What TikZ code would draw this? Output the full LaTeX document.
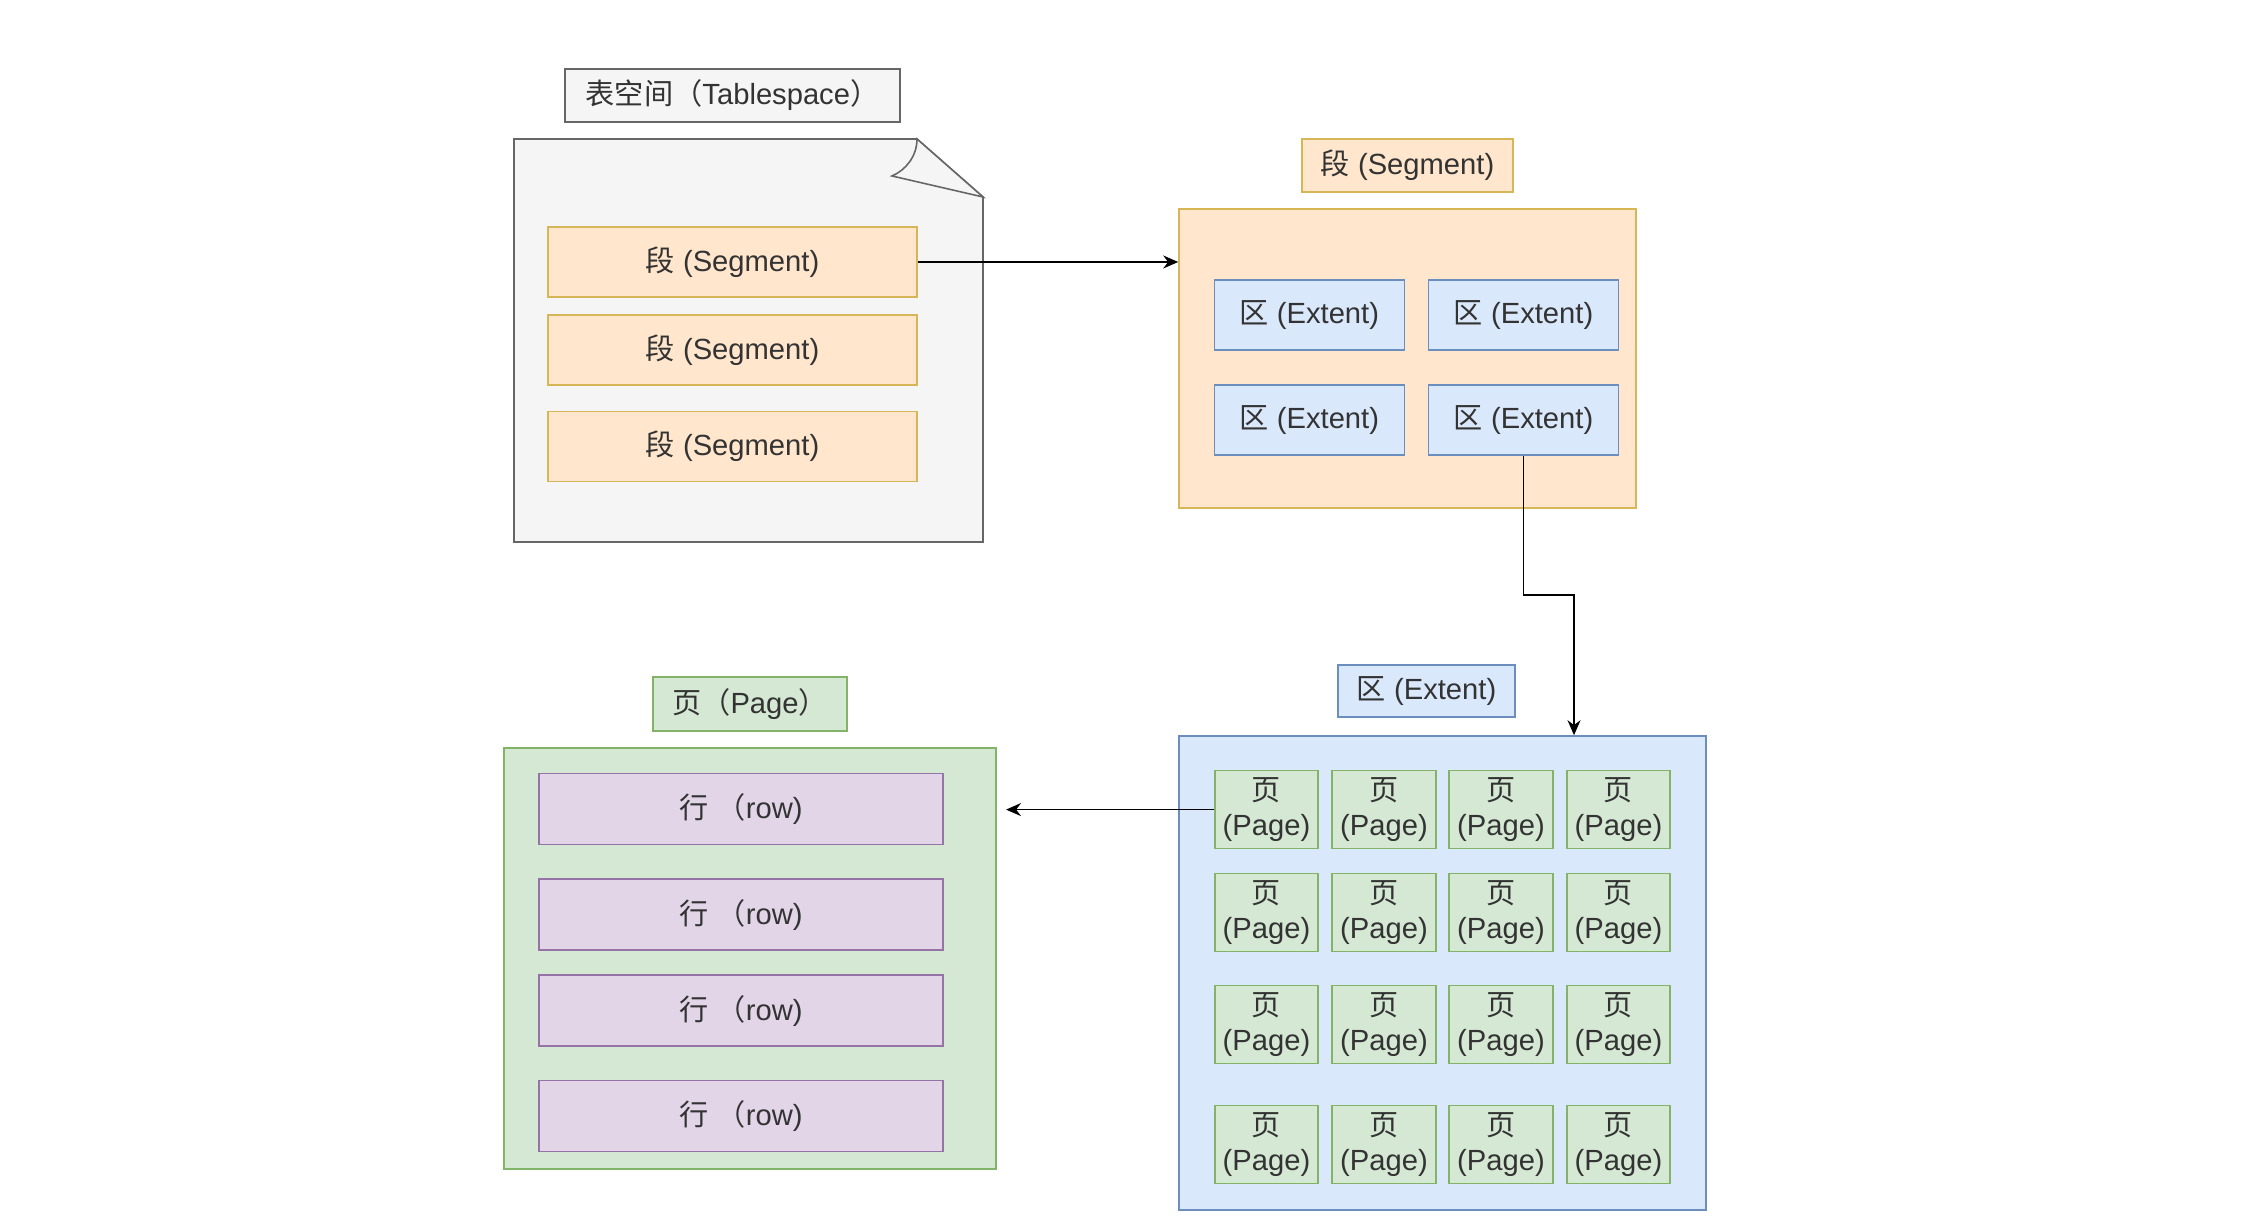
\documentclass[tikz,border=0pt]{standalone}
\usepackage{fontspec}
\setmainfont{Liberation Sans}
\newfontfamily\cjk{Noto Sans CJK SC}
\usetikzlibrary{arrows.meta}
\definecolor{txt}{HTML}{333333}
\definecolor{grayfill}{HTML}{F5F5F5}
\definecolor{graydraw}{HTML}{666666}
\definecolor{orfill}{HTML}{FFE6CC}
\definecolor{ordraw}{HTML}{D6B656}
\definecolor{blfill}{HTML}{DAE8FC}
\definecolor{bldraw}{HTML}{6C8EBF}
\definecolor{grfill}{HTML}{D5E8D4}
\definecolor{grdraw}{HTML}{82B366}
\definecolor{pufill}{HTML}{E1D5E7}
\definecolor{pudraw}{HTML}{9673A6}
\tikzset{
  base/.style={rectangle, inner sep=0pt, line width=0.45pt, text=txt,
    font=\fontsize{8.3pt}{10pt}\selectfont, align=center},
  graybox/.style={base, fill=grayfill, draw=graydraw},
  orbox/.style={base, fill=orfill, draw=ordraw},
  blbox/.style={base, fill=blfill, draw=bldraw},
  grbox/.style={base, fill=grfill, draw=grdraw},
  pubox/.style={base, fill=pufill, draw=pudraw},
  segsz/.style={minimum width=36.9mm, minimum height=7.0mm},
  extsz/.style={minimum width=19.0mm, minimum height=7.0mm},
  pagesz/.style={minimum width=10.35mm, minimum height=7.8mm},
  rowsz/.style={minimum width=40.4mm, minimum height=7.1mm},
  arr/.style={line width=0.4pt, draw=black, -{Stealth[length=1.5mm, width=1.3mm]}},
}
\newcommand{\seglabel}{{\cjk 段} (Segment)}
\newcommand{\extlabel}{{\cjk 区} (Extent)}
\newcommand{\pagelabel}{{\cjk 页}\\(Page)}
\newcommand{\rowlabel}{{\cjk 行} {\cjk （}row)}
\begin{document}
\begin{tikzpicture}[x=0.1mm, y=-0.1mm]
\useasboundingbox (0,0) rectangle (2250,1218);
\fill[white] (0,0) rectangle (2250,1218);

% ---- Tablespace ----
\node[graybox, minimum width=33.5mm, minimum height=5.3mm] (tslabel) at (732.5,95.5)
  {{\cjk 表空间（}Tablespace{\cjk ）}};
\draw[line width=0.45pt, fill=grayfill, draw=graydraw]
  (514,139) -- (917,139) -- (983,197) -- (983,542) -- (514,542) -- cycle;
\draw[line width=0.45pt, fill=grayfill, draw=graydraw]
  (917,139) .. controls (917,156) and (906,170) .. (892,176) -- (983,197) -- cycle;
\node[orbox, segsz] (s1) at (732.5,262) {\seglabel};
\node[orbox, segsz] (s2) at (732.5,350) {\seglabel};
\node[orbox, segsz] (s3) at (732.5,446.5) {\seglabel};

% ---- Segment ----
\node[orbox, minimum width=21.1mm, minimum height=5.3mm] (seglabel) at (1407.5,165.5) {\seglabel};
\node[orbox, minimum width=45.7mm, minimum height=29.9mm] (seg) at (1407.5,358.5) {};
\node[blbox, extsz] (e11) at (1309.3,315) {\extlabel};
\node[blbox, extsz] (e12) at (1523.5,315) {\extlabel};
\node[blbox, extsz] (e21) at (1309.3,420) {\extlabel};
\node[blbox, extsz] (e22) at (1523.5,420) {\extlabel};

% ---- Extent ----
\node[blbox, minimum width=17.7mm, minimum height=5.25mm] (extlabel) at (1426.5,691) {\extlabel};
\node[blbox, minimum width=52.7mm, minimum height=47.4mm] (ext) at (1442.5,973) {};
\foreach \r/\y in {1/809.6, 2/912.6, 3/1024.4, 4/1144.5}{
  \foreach \c/\x in {1/1266.5, 2/1384, 3/1501, 4/1618.5}{
    \node[grbox, pagesz] (p\r\c) at (\x,\y) {\pagelabel};
  }
}

% ---- Page ----
\node[grbox, minimum width=19.4mm, minimum height=5.4mm] (pagelabel) at (750,704)
  {{\cjk 页（}Page{\cjk ）}};
\node[grbox, minimum width=49.2mm, minimum height=42.1mm] (page) at (750,958.5) {};
\node[pubox, rowsz] (r1) at (741,808.8) {\rowlabel};
\node[pubox, rowsz] (r2) at (741,914.6) {\rowlabel};
\node[pubox, rowsz] (r3) at (741,1010.7) {\rowlabel};
\node[pubox, rowsz] (r4) at (741,1116.2) {\rowlabel};

% ---- connectors ----
\draw[arr] (s1.east) -- (seg.west |- s1.east);
\coordinate (bend) at (1574,595);
\draw[arr] (e22.south) |- (bend) -- (bend |- ext.north);
\coordinate (pagein) at (1006,809.6);
\draw[arr] (p11.west) -- (pagein);
\end{tikzpicture}
\end{document}
